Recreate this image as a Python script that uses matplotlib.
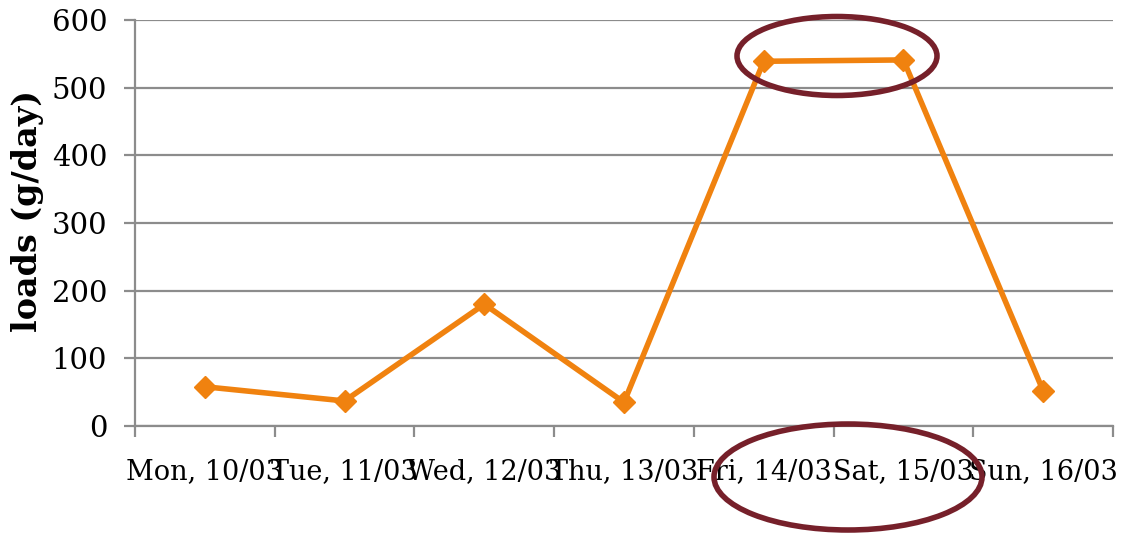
import matplotlib
matplotlib.use("Agg")
import matplotlib.pyplot as plt
from matplotlib.patches import Ellipse
import numpy as np

categories = ["Mon, 10/03", "Tue, 11/03", "Wed, 12/03", "Thu, 13/03",
              "Fri, 14/03", "Sat, 15/03", "Sun, 16/03"]
loads = [58, 37, 180, 35, 539, 541, 52]
yticks = [0, 100, 200, 300, 400, 500, 600]
ylabel = "loads (g/day)"

FONT = ["DejaVu Serif"]
grid_c = "#8c8c8c"
line_c = "#F0820F"
ell_c = "#76202A"

fig = plt.figure(figsize=(11.34, 5.33), dpi=100)
ax = fig.add_axes([135/1134, 1 - 426/533, (1113-135)/1134, (426-20)/533])

x = np.arange(len(categories))
ax.plot(x, loads, color=line_c, lw=4, marker="D", ms=11, zorder=5, clip_on=False)

ax.set_xlim(-0.5, len(categories) - 0.5)
ax.set_ylim(0, 600)
ax.set_yticks(yticks)
ax.set_yticklabels([str(v) for v in yticks], family=FONT, fontsize=21)
ax.set_xticks(np.arange(-0.5, len(categories)), labels=[""] * (len(categories) + 1))
ax.set_xticks(x, labels=categories, minor=True)
for lab in ax.get_xticklabels(minor=True):
    lab.set_family(FONT)
    lab.set_fontsize(19.5)
ax.tick_params(axis="x", which="minor", length=0, pad=23)
ax.tick_params(axis="x", which="major", length=8, width=1.6, color=grid_c, direction="out")
ax.tick_params(axis="y", length=8, width=1.6, color=grid_c, pad=12, direction="out")
ax.grid(axis="y", color=grid_c, lw=1.6)
ax.set_axisbelow(True)
for s in ["top", "right"]:
    ax.spines[s].set_visible(False)
for s in ["left", "bottom"]:
    ax.spines[s].set_color(grid_c)
    ax.spines[s].set_linewidth(1.6)
ax.set_ylabel(ylabel, family=FONT, fontsize=24, fontweight="bold")
ax.yaxis.set_label_coords(-0.093, 0.53)

ov = fig.add_axes([0, 0, 1, 1], zorder=10)
ov.set_xlim(0, 1134)
ov.set_ylim(533, 0)
ov.axis("off")
ov.patch.set_alpha(0)
ov.add_patch(Ellipse((837, 56), 200, 79, fill=False, ec=ell_c, lw=4))
ov.add_patch(Ellipse((848, 477), 268, 106, fill=False, ec=ell_c, lw=4))

fig.savefig("out.png", dpi=100)
